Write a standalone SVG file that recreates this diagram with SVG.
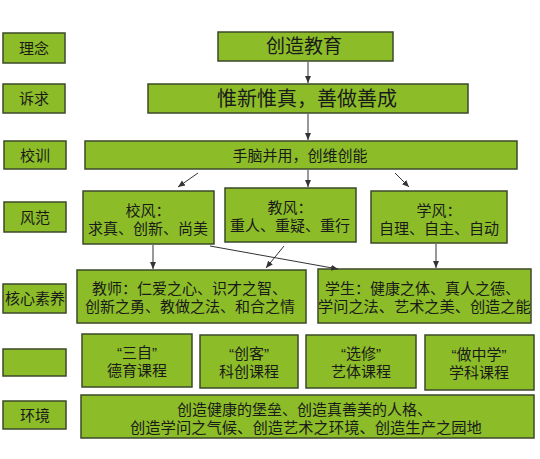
<svg xmlns="http://www.w3.org/2000/svg" width="540" height="459" viewBox="0 0 540 459">
<style>
.box{fill:#8cbd28;stroke:#3c4a28;stroke-width:1.5}
text{font-family:"Liberation Sans","Noto Sans CJK SC",sans-serif;fill:#1a1a1a;dominant-baseline:central;text-anchor:middle;font-size:15px}
.c{stroke:#333;stroke-width:1;fill:none;marker-end:url(#ah)}
</style>
<defs>
<marker id="ah" markerWidth="8" markerHeight="8" refX="7" refY="4" orient="auto" markerUnits="userSpaceOnUse">
<path d="M0,1 L7,4 L0,7 Z" fill="#333"/>
</marker>
</defs>
<rect width="540" height="459" fill="#fff"/>
<g id="labels">
<g id="lbl-linian"><rect class="box" x="3" y="33" width="62" height="30"/><text x="34" y="48">理念</text></g>
<g id="lbl-suqiu"><rect class="box" x="3" y="84" width="62" height="29"/><text x="34" y="98.5">诉求</text></g>
<g id="lbl-xiaoxun"><rect class="box" x="4" y="141" width="62" height="28"/><text x="35" y="155">校训</text></g>
<g id="lbl-fengfan"><rect class="box" x="4" y="202" width="62" height="30"/><text x="35" y="217">风范</text></g>
<g id="lbl-hexin"><rect class="box" x="3" y="284" width="63" height="29"/><text x="35" y="298.5">核心素养</text></g>
<g id="lbl-blank"><rect class="box" x="3" y="349" width="63" height="27"/></g>
<g id="lbl-huanjing"><rect class="box" x="3" y="401" width="63" height="28"/><text x="35" y="415">环境</text></g>
</g>
<g id="n-chuangzao"><rect class="box" x="218" y="32" width="175" height="29"/><text x="304" y="46.5" style="font-size:19px">创造教育</text></g>
<g id="n-weixin"><rect class="box" x="148" y="84" width="320" height="29"/><text x="307" y="98.5" style="font-size:20px">惟新惟真，善做善成</text></g>
<g id="n-shounao"><rect class="box" x="85" y="141" width="432" height="28"/><text x="300" y="155">手脑并用，创维创能</text></g>
<g id="n-xiaofeng"><rect class="box" x="83" y="191" width="131" height="53"/><text x="148" y="210">校风：</text><text x="148" y="228">求真、创新、尚美</text></g>
<g id="n-jiaofeng"><rect class="box" x="225" y="188" width="131" height="54"/><text x="290" y="207">教风：</text><text x="290" y="225">重人、重疑、重行</text></g>
<g id="n-xuefeng"><rect class="box" x="371" y="191" width="136" height="52"/><text x="439" y="210">学风：</text><text x="439" y="228">自理、自主、自动</text></g>
<g id="n-jiaoshi"><rect class="box" x="77" y="270" width="229" height="53"/><text x="92" y="288" style="text-anchor:start">教师：仁爱之心、识才之智、</text><text x="85" y="306" style="text-anchor:start">创新之勇、教做之法、和合之情</text></g>
<g id="n-xuesheng"><rect class="box" x="318" y="269" width="213" height="54"/><text x="325" y="288" style="text-anchor:start">学生：健康之体、真人之德、</text><text x="318" y="306" style="text-anchor:start;font-size:15.2px">学问之法、艺术之美、创造之能</text></g>
<g id="n-sanzi"><rect class="box" x="82" y="334" width="110" height="53"/><text x="137" y="352">“三自”</text><text x="137" y="370">德育课程</text></g>
<g id="n-chuangke"><rect class="box" x="200" y="335" width="98" height="53"/><text x="249" y="353">“创客”</text><text x="249" y="371">科创课程</text></g>
<g id="n-xuanxiu"><rect class="box" x="306" y="335" width="110" height="53"/><text x="361" y="353">“选修”</text><text x="361" y="371">艺体课程</text></g>
<g id="n-zuozhongxue"><rect class="box" x="425" y="335" width="109" height="55"/><text x="479" y="354">“做中学”</text><text x="479" y="372">学科课程</text></g>
<g id="n-huanjing"><rect class="box" x="81" y="395" width="453" height="43"/><text x="177" y="409" style="text-anchor:start">创造健康的堡垒、创造真善美的人格、</text><text x="130" y="427" style="text-anchor:start;font-size:15.3px">创造学问之气候、创造艺术之环境、创造生产之园地</text></g>
<g id="connectors">
<line class="c" x1="308" y1="62" x2="308" y2="83"/>
<line class="c" x1="308" y1="114" x2="308" y2="140"/>
<line class="c" x1="198" y1="173" x2="178" y2="187"/>
<line class="c" x1="308" y1="170" x2="308" y2="187"/>
<line class="c" x1="395" y1="173" x2="409" y2="187"/>
<line class="c" x1="153" y1="245" x2="153" y2="269"/>
<line class="c" x1="210" y1="246" x2="338" y2="269"/>
<line class="c" x1="284" y1="246" x2="266" y2="268"/>
<line class="c" x1="436" y1="244" x2="436" y2="268"/>
</g>
</svg>
